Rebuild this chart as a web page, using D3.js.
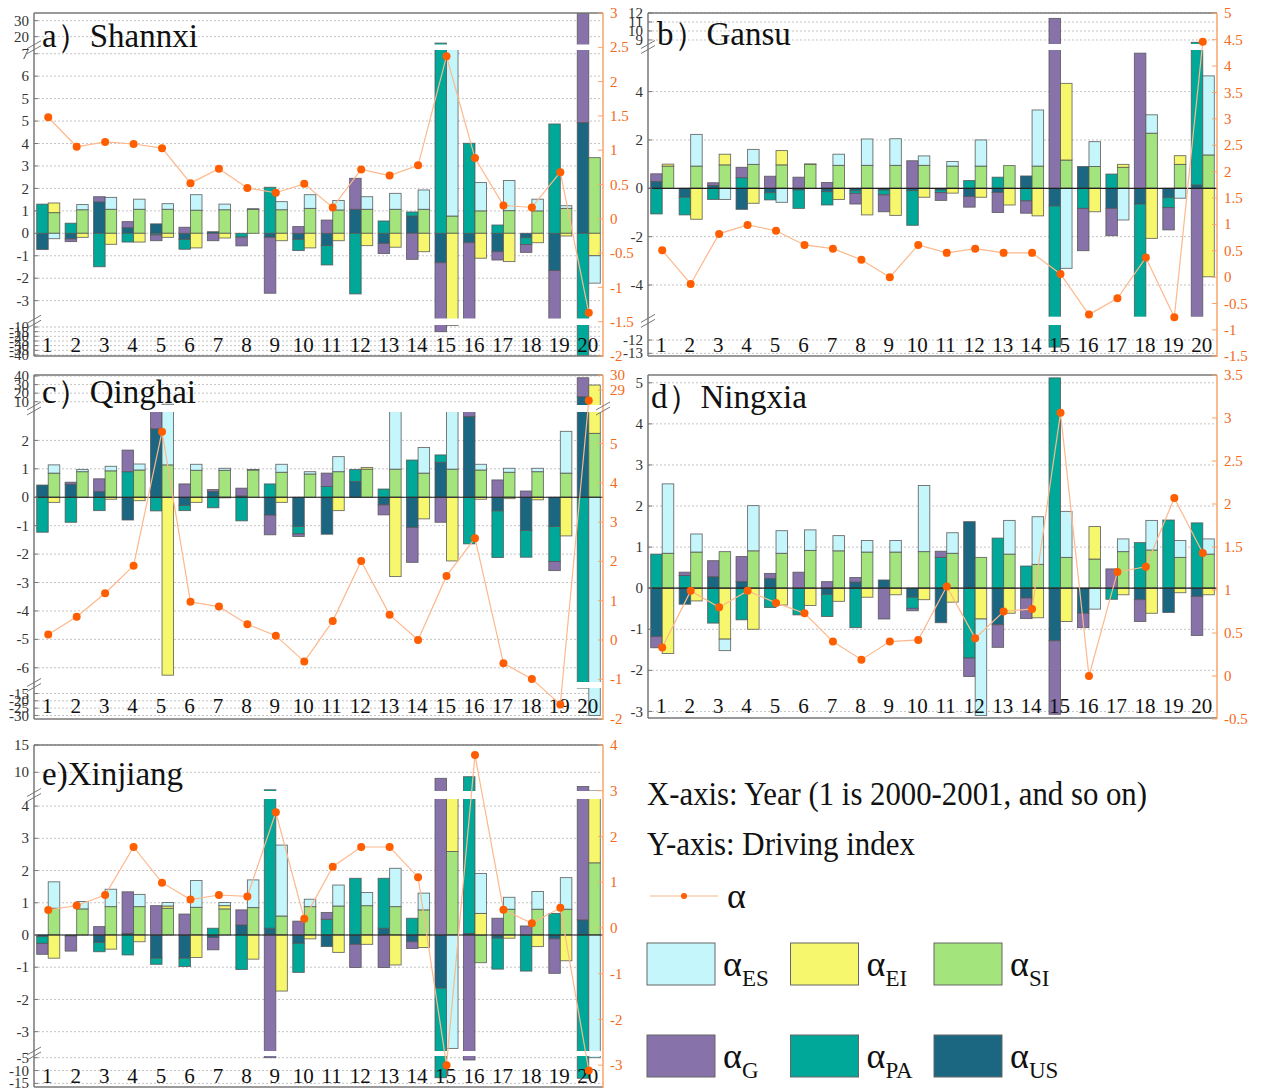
<!DOCTYPE html>
<html>
<head>
<meta charset="utf-8">
<script src="https://cdn.jsdelivr.net/npm/d3@7"></script>
<style>
  body { margin: 0; background: #fff; }
  svg { display: block; font-family: "Liberation Serif", "Times New Roman", serif; }
</style>
</head>
<body>
<svg id="chart" width="1283" height="1088"></svg>
<script>
// ---------- data ----------
const years = d3.range(1, 21);

// a) Shannxi
const shannxiUS = [-0.72,-0.25,1.40,0.25,0.42,-0.27,0.07,0,-0.18,-0.27,-0.55,1.07,-0.45,0.77,-1.31,-0.42,-0.82,-0.20,-1.66,4.93];
const shannxiPA = [1.30,0.45,-1.49,-0.39,-0.07,-0.44,0,-0.17,2.05,-0.50,-0.86,-2.70,0.55,0.18,16.0,4.01,0.37,-0.30,4.87,-40.5];
const shannxiG  = [0,-0.12,0.23,0.27,-0.26,0.27,-0.33,-0.39,-2.49,0.30,0.59,1.38,-0.45,-1.16,-13.7,-4.6,-0.37,-0.35,-2.54,30];
const shannxiSI = [0.92,1.05,1.07,1.07,1.07,1.03,1.05,1.06,1.05,1.11,1.04,1.07,1.07,1.07,0.77,1.00,1.01,1.00,1.11,3.37];
const shannxiEI = [0.43,-0.18,-0.49,-0.39,-0.18,-0.65,-0.21,0,-0.33,-0.65,-0.33,-0.55,-0.62,-0.82,-8.3,-1.11,-1.26,-0.42,-0.12,-1.00];
const shannxiES = [-0.24,0.23,0.53,0.45,0.25,0.69,0.25,0.04,0.36,0.61,0.42,0.56,0.71,0.86,9.2,1.26,1.34,0.52,0.12,-1.22];
const shannxiAlpha = [1.48,1.05,1.12,1.09,1.03,0.52,0.73,0.45,0.38,0.51,0.165,0.72,0.63,0.78,2.37,0.885,0.195,0.165,0.68,-1.37];

// b) Gansu
const gansuUS = [0.28,-0.37,0.12,-0.87,-0.18,-0.07,-0.14,-0.10,-0.07,-0.10,-0.07,-0.34,-0.17,0.51,-0.73,0.90,-0.83,-0.65,-0.39,0.14];
const gansuPA = [-1.06,-0.73,-0.46,0.44,-0.30,-0.76,-0.55,-0.11,-0.20,-1.43,-0.11,0.32,0.46,-0.52,-11.8,-0.83,0.59,-6.35,-0.41,8.6];
const gansuG  = [0.32,0,0.11,0.43,0.50,0.46,0.24,-0.44,-0.70,1.14,-0.32,-0.44,-0.83,-0.51,11.4,-1.75,-1.13,5.59,-0.92,-5.5];
const gansuSI = [0.92,0.92,0.97,0.99,0.97,0.99,0.95,0.95,0.95,0.95,0.92,0.92,0.94,0.92,1.17,0.90,0.87,2.28,0.99,1.38];
const gansuEI = [0.08,-1.28,0.44,-0.62,0.59,0.02,-0.46,-1.10,-1.12,-0.37,-0.20,-0.37,-0.69,-1.14,3.17,-0.97,0.12,-2.07,0.36,-3.66];
const gansuES = [0,1.31,-0.46,0.62,-0.58,0,0.46,1.09,1.10,0.39,0.19,1.08,0,2.32,-3.31,1.03,-1.31,0.76,-0.41,3.27];
const gansuAlpha = [0.51,-0.13,0.82,0.99,0.88,0.61,0.54,0.33,0.0,0.61,0.46,0.54,0.46,0.46,0.06,-0.71,-0.40,0.37,-0.76,4.46];

// c) Qinghai
const qinghaiUS = [0.43,0.46,0.20,-0.80,2.41,-0.29,0.20,0.05,-0.63,-1.03,-1.30,0.55,-0.27,-1.06,1.23,2.84,-0.48,-1.17,-1.03,15.8];
const qinghaiPA = [-1.23,-0.88,-0.47,0.90,-0.48,-0.18,-0.37,-0.83,0.47,-0.26,0.38,0.43,0.29,1.31,0.26,-1.64,-1.64,-0.94,-1.23,-11.3];
const qinghaiG  = [0,0.07,0.45,0.76,1.6,0.47,0.07,0.27,-0.69,-0.09,0.47,0,-0.35,-1.23,-0.88,0.4,0.61,0.22,-0.32,22.2];
const qinghaiSI = [0.85,0.90,0.93,0.96,1.14,0.95,0.95,0.96,0.88,0.82,0.90,0.99,0.99,0.85,0.99,0.96,0.88,0.90,0.85,2.25];
const qinghaiEI = [-0.18,0,-0.07,-0.12,-6.26,-0.18,-0.02,0,-0.18,0,-0.47,0.06,-2.79,-0.76,-2.24,-0.07,-0.05,-0.09,-1.36,27.2];
const qinghaiES = [0.29,0.08,0.16,0.21,5.9,0.21,0.07,0.02,0.28,0.08,0.53,0,3.0,0.90,3.5,0.20,0.14,0.12,1.47,-30.0];
const qinghaiAlpha = [0.14,0.59,1.19,1.89,5.30,0.97,0.85,0.40,0.11,-0.55,0.48,2.01,0.64,0.0,1.63,2.59,-0.59,-0.99,-1.64,28.3];

// d) Ningxia
const ningxiaUS = [-1.18,-0.39,0.28,0.16,0.24,0,-0.15,0.15,0.20,-0.22,-0.84,1.62,-0.89,-0.24,-1.28,-0.61,0,-0.28,-0.59,-0.20];
const ningxiaPA = [0.83,0.31,-0.85,-0.77,-0.47,-0.65,-0.54,-0.96,0,-0.27,0.75,-1.70,1.22,0.54,5.12,0,-0.27,1.11,1.66,1.59];
const ningxiaG  = [-0.27,0.08,0.39,0.61,0.12,0.39,0.16,0.11,-0.75,-0.06,0.15,-0.45,-0.55,-0.50,-1.79,-0.35,0.47,-0.53,0,-0.95];
const ningxiaSI = [0.85,0.88,0.89,0.91,0.85,0.92,0.91,0.88,0.88,0.89,0.85,0.75,0.83,0.58,0.75,0.71,0.89,0.93,0.75,0.83];
const ningxiaEI = [-1.59,-0.31,-1.24,-1.00,-0.41,-0.42,-0.32,-0.22,-0.16,-0.28,-0.34,-0.75,-0.61,-0.72,-0.81,0.79,-0.16,-0.61,-0.11,-0.16];
const ningxiaES = [1.69,0.44,-0.28,1.10,0.55,0.50,0.37,0.28,0.28,1.61,0.50,-2.35,0.82,1.16,1.12,-0.51,0.31,0.72,0.41,0.37];
const ningxiaAlpha = [0.33,0.99,0.80,0.99,0.85,0.73,0.40,0.19,0.40,0.42,1.04,0.44,0.75,0.78,3.06,0.0,1.21,1.27,2.07,1.43];

// e) Xinjiang
const xinjiangUS = [-0.05,-0.03,-0.23,0.05,-0.72,-0.72,-0.08,0.31,0.21,-0.26,-0.36,-0.29,0.21,-0.21,-1.65,0.05,-0.10,0,-0.12,0.47];
const xinjiangPA = [-0.21,0,-0.29,-0.62,-0.19,-0.26,0.21,-1.07,6.6,-0.90,0.49,1.76,1.55,0.52,-11.15,9.15,-0.96,-1.12,0.67,-13.0];
const xinjiangG  = [-0.34,-0.47,0.26,1.29,0.91,0.65,-0.38,0.47,-5.0,0.43,0.21,-0.72,-1.01,-0.21,8.9,-5.9,0.52,0.28,-1.07,6.93];
const xinjiangSI = [0.83,0.81,0.88,0.88,0.83,0.86,0.81,0.85,0.59,0.88,0.90,0.91,0.88,0.78,2.59,-0.86,0.80,0.80,0.80,2.24];
const xinjiangEI = [-0.72,0,-0.44,-0.21,0.07,-0.70,0.10,-0.75,-1.74,-0.12,-0.54,-0.29,-0.93,-0.39,2.9,0.67,-0.10,-0.36,-0.80,4.36];
const xinjiangES = [0.82,0.23,0.54,0.38,0.11,0.83,0.10,0.86,2.20,0.23,0.65,0.41,1.19,0.52,-3.52,1.24,0.37,0.55,0.98,-5.0];
const xinjiangAlpha = [0.39,0.49,0.72,1.77,0.99,0.62,0.72,0.69,2.53,0.20,1.34,1.77,1.77,1.11,-3.00,3.78,0.40,0.10,0.44,-3.12];

// axis tick values (left axis of each panel) and the labels printed beside them
const shannxiTicks = [30,20,8,7,6,5,4,3,2,1,0,-1,-2,-3,-10,-15,-20,-25,-30,-35,-40];
const shannxiTickLabels = ["30","20","7","6","5","5","4","3","2","1","0","-1","-2","-3","-10","-15","-20","-25","-30","-35","-40"];
const gansuTicks = [12,11,10,9,4,2,0,-2,-4,-12,-13];
const qinghaiTicks = [40,30,20,10,2,1,0,-1,-2,-3,-4,-5,-6,-15,-20,-25,-30];
const ningxiaTicks = [5,4,3,2,1,0,-1,-2,-3];
const xinjiangTicks = [15,10,4,3,2,1,0,-1,-2,-3,-5,-10,-15];

// right (α) axis ticks
const shannxiAlphaTicks = [3,2.5,2,1.5,1,0.5,0,-0.5,-1,-1.5,-2];
const gansuAlphaTicks = [5,4.5,4,3.5,3,2.5,2,1.5,1,0.5,0,-0.5,-1,-1.5];
const qinghaiAlphaTicks = [30,29,5,4,3,2,1,0,-1,-2];
const ningxiaAlphaTicks = [3.5,3,2.5,2,1.5,1,0.5,0,-0.5];
const xinjiangAlphaTicks = [4,3,2,1,0,-1,-2,-3];

const leftKeys = ["US", "PA", "G"];
const rightKeys = ["SI", "EI", "ES"];
const legendKeys = ["ES", "EI", "SI", "G", "PA", "US"];
const colors = { ES: "#c5f6fb", EI: "#f7f76d", SI: "#a4e47c", G: "#8872aa", PA: "#00a89a", US: "#1b6681" };
const orangeText = "#f26a1b";
const orangeAxis = "#f9a46a";
const alphaLine = "#fdb88c";
const alphaDot = "#ff5e00";

// ---------- panel layout ----------
const panels = [
  { title: "a）Shannxi", US: shannxiUS, PA: shannxiPA, G: shannxiG, SI: shannxiSI, EI: shannxiEI, ES: shannxiES, alpha: shannxiAlpha,
    ticks: shannxiTicks, tickLabels: shannxiTickLabels, rTicks: shannxiAlphaTicks,
    x0: 34, x1: 603, y0: 13, y1: 356,
    yDomain: [-41.1, -7.86, -3.795, 8.165, 15.1, 34.8], yRange: [356, 325, 318.5, 50, 44.5, 13],
    gaps: [[44.5, 50], [318.5, 325]], rDomain: [-2, 3], rRange: [356, 13], rGaps: [],
    zeroLine: false, titleX: 42, titleY: 47, xLabelY: 352 },
  { title: "b）Gansu", US: gansuUS, PA: gansuPA, G: gansuG, SI: gansuSI, EI: gansuEI, ES: gansuES, alpha: gansuAlpha,
    ticks: gansuTicks, rTicks: gansuAlphaTicks,
    x0: 648, x1: 1217, y0: 13, y1: 356,
    yDomain: [-13.2, -10.87, -5.31, 5.72, 8.55, 12], yRange: [356, 325, 316.7, 50, 44, 13],
    gaps: [[44, 50], [316.7, 325]], rDomain: [-1.5, 5], rRange: [356.3, 13.3], rGaps: [],
    zeroLine: true, titleX: 657, titleY: 45, xLabelY: 352 },
  { title: "c）Qinghai", US: qinghaiUS, PA: qinghaiPA, G: qinghaiG, SI: qinghaiSI, EI: qinghaiEI, ES: qinghaiES, alpha: qinghaiAlpha,
    ticks: qinghaiTicks, rTicks: qinghaiAlphaTicks,
    x0: 34, x1: 603, y0: 375, y1: 719,
    yDomain: [-32.4, -11.25, -6.5, 3.0, 6.15, 41.2], yRange: [719, 688, 682, 412, 405, 375],
    gaps: [[405, 412], [682, 688]], rDomain: [-2.01, 5.8, 28, 30], rRange: [719, 412, 405, 375], rGaps: [[405, 412]],
    zeroLine: true, titleX: 42, titleY: 403, xLabelY: 713 },
  { title: "d）Ningxia", US: ningxiaUS, PA: ningxiaPA, G: ningxiaG, SI: ningxiaSI, EI: ningxiaEI, ES: ningxiaES, alpha: ningxiaAlpha,
    ticks: ningxiaTicks, rTicks: ningxiaAlphaTicks,
    x0: 648, x1: 1217, y0: 375, y1: 718,
    yDomain: [-3.16, 5.19], yRange: [718, 375],
    gaps: [], rDomain: [-0.5, 3.5], rRange: [719, 375], rGaps: [],
    zeroLine: true, titleX: 651, titleY: 408, xLabelY: 713 },
  { title: "e)Xinjiang", US: xinjiangUS, PA: xinjiangPA, G: xinjiangG, SI: xinjiangSI, EI: xinjiangEI, ES: xinjiangES, alpha: xinjiangAlpha,
    ticks: xinjiangTicks, rTicks: xinjiangAlphaTicks,
    x0: 34, x1: 603, y0: 745, y1: 1087,
    yDomain: [-16.8, -4.34, -3.6, 4.22, 6.58, 15], yRange: [1088, 1056, 1051, 799, 791, 745],
    gaps: [[791, 799], [1051, 1056]], rDomain: [-3.5, 4], rRange: [1088, 745], rGaps: [],
    zeroLine: true, titleX: 42, titleY: 785, xLabelY: 1083 }
];

const svg = d3.select("#chart");

function breakMark(g, x, yMid) {
  [-2.5, 2.5].forEach(k => {
    g.append("line")
      .attr("x1", x - 7).attr("y1", yMid + k + 4)
      .attr("x2", x + 7).attr("y2", yMid + k - 4)
      .attr("stroke", "#777").attr("stroke-width", 1);
  });
}

panels.forEach((p, pi) => {
  const g = svg.append("g");
  const x = d3.scaleBand().domain(years).range([p.x0, p.x1]).paddingInner(0.19).paddingOuter(0.095);
  const side = d3.scaleBand().domain(["L", "R"]).range([0, x.bandwidth()]);
  const y = d3.scaleLinear().domain(p.yDomain).range(p.yRange).clamp(true);
  const yR = d3.scaleLinear().domain(p.rDomain).range(p.rRange).clamp(true);

  // dotted grid at every left tick
  g.append("g").selectAll("line").data(p.ticks).join("line")
    .attr("x1", p.x0).attr("x2", p.x1)
    .attr("y1", d => y(d)).attr("y2", d => y(d))
    .attr("stroke", "#c4c4c4").attr("stroke-width", 1).attr("stroke-dasharray", "2,2");

  // clip region for the plot
  const clipId = "clip" + pi;
  svg.append("clipPath").attr("id", clipId).append("rect")
    .attr("x", p.x0).attr("y", p.y0).attr("width", p.x1 - p.x0).attr("height", p.y1 - p.y0);

  const rows = years.map((yr, i) => ({
    year: yr, US: p.US[i], PA: p.PA[i], G: p.G[i], SI: p.SI[i], EI: p.EI[i], ES: p.ES[i]
  }));

  const bars = g.append("g").attr("clip-path", `url(#${clipId})`);
  const drawStack = (keys, sideKey) => {
    const series = d3.stack().keys(keys).offset(d3.stackOffsetDiverging)(rows);
    series.forEach(s => {
      bars.append("g").selectAll("rect")
        .data(s.filter(d => Math.abs(d[1] - d[0]) > 1e-9))
        .join("rect")
        .attr("x", d => x(d.data.year) + side(sideKey))
        .attr("width", side.bandwidth())
        .attr("y", d => y(Math.max(d[0], d[1])))
        .attr("height", d => Math.max(0, y(Math.min(d[0], d[1])) - y(Math.max(d[0], d[1]))))
        .attr("fill", colors[s.key])
        .attr("stroke", "#555").attr("stroke-width", 0.9).attr("stroke-opacity", 0.85);
    });
  };
  drawStack(leftKeys, "L");
  drawStack(rightKeys, "R");

  // axis breaks: blank bands through the plot
  p.gaps.forEach(([a, b]) => {
    g.append("rect").attr("x", p.x0 + 1).attr("y", a).attr("width", p.x1 - p.x0 - 2).attr("height", b - a).attr("fill", "#fff");
  });

  if (p.zeroLine) {
    g.append("line").attr("x1", p.x0).attr("x2", p.x1).attr("y1", y(0)).attr("y2", y(0))
      .attr("stroke", "#222").attr("stroke-width", 1.2);
  }

  // frame
  g.append("line").attr("x1", p.x0).attr("x2", p.x1).attr("y1", p.y0).attr("y2", p.y0).attr("stroke", "#777").attr("stroke-width", 1.5);
  g.append("line").attr("x1", p.x0).attr("x2", p.x1).attr("y1", p.y1).attr("y2", p.y1).attr("stroke", "#777").attr("stroke-width", 1.5);
  g.append("line").attr("x1", p.x0).attr("x2", p.x0).attr("y1", p.y0).attr("y2", p.y1).attr("stroke", "#777").attr("stroke-width", 1.5);
  g.append("line").attr("x1", p.x1).attr("x2", p.x1).attr("y1", p.y0).attr("y2", p.y1 + 1).attr("stroke", orangeAxis).attr("stroke-width", 1.5);

  // left tick labels
  const lt = g.append("g");
  p.ticks.forEach((t, i) => {
    lt.append("line").attr("x1", p.x0).attr("x2", p.x0 + 4).attr("y1", y(t)).attr("y2", y(t)).attr("stroke", "#777");
    lt.append("text").attr("x", p.x0 - 5).attr("y", y(t)).attr("dy", "0.34em")
      .attr("text-anchor", "end").attr("font-size", 15).attr("fill", "#333")
      .text(p.tickLabels ? p.tickLabels[i] : String(t));
  });
  p.gaps.forEach(([a, b]) => breakMark(g, p.x0, (a + b) / 2));

  // right α axis
  const rt = g.append("g");
  p.rTicks.forEach(t => {
    rt.append("line").attr("x1", p.x1 - 5).attr("x2", p.x1).attr("y1", yR(t)).attr("y2", yR(t)).attr("stroke", orangeAxis);
    rt.append("text").attr("x", p.x1 + 7).attr("y", yR(t)).attr("dy", "0.34em")
      .attr("font-size", 15).attr("fill", orangeText).text(String(t));
  });
  p.rGaps.forEach(([a, b]) => breakMark(g, p.x1, (a + b) / 2));

  // year labels
  g.append("g").selectAll("text").data(years).join("text")
    .attr("x", d => x(d) + x.bandwidth() / 2 - 1).attr("y", p.xLabelY)
    .attr("text-anchor", "middle").attr("font-size", 21).attr("fill", "#111")
    .text(d => d);

  // α line and points
  const line = d3.line().x((d, i) => x(years[i]) + x.bandwidth() / 2).y(d => yR(d));
  g.append("path").datum(p.alpha).attr("d", line)
    .attr("fill", "none").attr("stroke", alphaLine).attr("stroke-width", 1.2);
  g.append("g").selectAll("circle").data(p.alpha).join("circle")
    .attr("cx", (d, i) => x(years[i]) + x.bandwidth() / 2).attr("cy", d => yR(d))
    .attr("r", 4).attr("fill", alphaDot);

  // panel title
  g.append("text").attr("x", p.titleX).attr("y", p.titleY)
    .attr("font-size", 33).attr("fill", "#111").text(p.title);
});

// ---------- legend ----------
const lg = svg.append("g");
lg.append("text").attr("x", 647).attr("y", 805).attr("font-size", 34)
  .attr("textLength", 500).attr("lengthAdjust", "spacingAndGlyphs").attr("fill", "#111")
  .text("X-axis: Year (1 is 2000-2001, and so on)");
lg.append("text").attr("x", 647).attr("y", 855).attr("font-size", 34)
  .attr("textLength", 268).attr("lengthAdjust", "spacingAndGlyphs").attr("fill", "#111")
  .text("Y-axis: Driving index");
lg.append("line").attr("x1", 650).attr("x2", 718).attr("y1", 896).attr("y2", 896)
  .attr("stroke", alphaLine).attr("stroke-width", 1.2);
lg.append("circle").attr("cx", 684).attr("cy", 896).attr("r", 3).attr("fill", alphaDot);
lg.append("text").attr("x", 727).attr("y", 908).attr("font-size", 36).attr("fill", "#111").text("α");

const legendX = d3.scalePoint().domain([0, 1, 2]).range([647, 934]);
const legendRowY = [943, 1035];
legendKeys.forEach((k, i) => {
  const col = i % 3, row = Math.floor(i / 3);
  const lx = legendX(col), ly = legendRowY[row];
  lg.append("rect").attr("x", lx).attr("y", ly).attr("width", 68).attr("height", 42)
    .attr("fill", colors[k]).attr("stroke", "#666").attr("stroke-width", 1);
  const t = lg.append("text").attr("x", lx + 76).attr("y", ly + 33).attr("font-size", 36).attr("fill", "#111");
  t.append("tspan").text("α");
  t.append("tspan").attr("font-size", 23).attr("dy", 10).text(k);
});
</script>
</body>
</html>
